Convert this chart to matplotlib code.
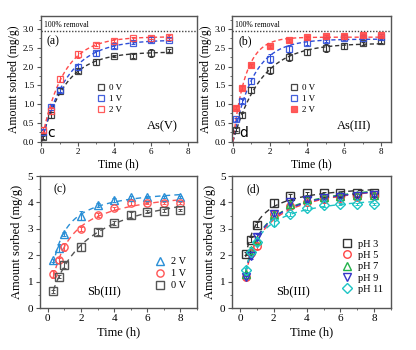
import numpy as np
import matplotlib
matplotlib.use("Agg")
import matplotlib.pyplot as plt
from matplotlib.ticker import MultipleLocator

plt.rcParams['font.family'] = ['Liberation Serif', 'DejaVu Serif']
plt.rcParams['mathtext.fontset'] = 'stix'

# ---------------- data ----------------
# (a) As(V)
t_a = [0.1, 0.5, 1, 2, 3, 4, 5, 6, 7]
a_0V = [0.12, 0.70, 1.35, 1.88, 2.12, 2.29, 2.29, 2.36, 2.43]
a_1V = [0.25, 0.92, 1.38, 1.98, 2.35, 2.54, 2.64, 2.70, 2.72]
a_2V = [0.32, 0.82, 1.68, 2.33, 2.58, 2.69, 2.75, 2.77, 2.80]
a_err0 = [0.04, 0.08, 0.07, 0.05, 0.08, 0.03, 0.05, 0.10, 0.05]
a_err1 = [0.05, 0.08, 0.07, 0.08, 0.07, 0.04, 0.04, 0.04, 0.04]
a_err2 = [0.06, 0.09, 0.08, 0.09, 0.04, 0.04, 0.04, 0.04, 0.04]

# (b) As(III)
t_b = [0.17, 0.5, 1, 2, 3, 4, 5, 6, 7, 8]
b_0V = [0.32, 0.70, 1.37, 1.90, 2.26, 2.39, 2.50, 2.55, 2.62, 2.67]
b_1V = [0.59, 1.08, 1.61, 2.21, 2.48, 2.64, 2.71, 2.75, 2.77, 2.78]
b_2V = [0.90, 1.43, 2.03, 2.54, 2.70, 2.78, 2.81, 2.82, 2.83, 2.83]
b_err0 = [0.05, 0.06, 0.08, 0.10, 0.10, 0.08, 0.10, 0.08, 0.04, 0.05]
b_err1 = [0.05, 0.06, 0.08, 0.12, 0.10, 0.06, 0.05, 0.04, 0.04, 0.04]
b_err2 = [0.04, 0.05, 0.04, 0.04, 0.04, 0.04, 0.04, 0.04, 0.04, 0.04]

# (c) Sb(III), voltage
t_c = [0.33, 0.67, 1, 2, 3, 4, 5, 6, 7, 8]
c_2V = [1.81, 2.28, 2.81, 3.50, 3.90, 4.09, 4.19, 4.21, 4.21, 4.21]
c_1V = [1.28, 1.80, 2.31, 3.00, 3.51, 3.78, 3.98, 3.98, 3.98, 3.98]
c_0V = [0.63, 1.19, 1.63, 2.31, 2.88, 3.23, 3.53, 3.65, 3.69, 3.71]
c_err2 = [0.05, 0.15, 0.08, 0.18, 0.08, 0.06, 0.06, 0.05, 0.05, 0.05]
c_err1 = [0.15, 0.08, 0.15, 0.08, 0.08, 0.06, 0.06, 0.05, 0.05, 0.05]
c_err0 = [0.05, 0.05, 0.10, 0.15, 0.12, 0.08, 0.12, 0.06, 0.05, 0.05]

# (d) Sb(III), pH
t_d = [0.33, 0.67, 1, 2, 3, 4, 5, 6, 7, 8]
d_pH3 = [2.06, 2.59, 3.15, 3.98, 4.25, 4.34, 4.34, 4.35, 4.35, 4.37]
d_pH5 = [1.19, 2.10, 2.34, 3.56, 3.88, 4.03, 4.13, 4.18, 4.20, 4.25]
d_pH7 = [1.30, 2.20, 2.56, 3.56, 3.94, 4.13, 4.21, 4.25, 4.27, 4.29]
d_pH9 = [1.16, 1.96, 2.69, 3.56, 4.00, 4.09, 4.16, 4.21, 4.25, 4.29]
d_pH11 = [1.44, 2.13, 2.50, 3.25, 3.56, 3.79, 3.90, 3.94, 3.94, 3.94]
d_err = [0.06, 0.10, 0.10, 0.15, 0.08, 0.06, 0.06, 0.05, 0.05, 0.05]


# ---------------- fitting helpers (fit to read data) ----------------
def fit_pfo(t, q):
    t = np.asarray(t, float); q = np.asarray(q, float)
    best = None
    for k in np.linspace(0.05, 8, 800):
        f = 1 - np.exp(-k * t)
        qe = (f @ q) / (f @ f)
        r = np.sum((q - qe * f) ** 2)
        if best is None or r < best[0]:
            best = (r, qe, k)
    return lambda x: best[1] * (1 - np.exp(-best[2] * x))


def fit_pso(t, q):
    t = np.asarray(t, float); q = np.asarray(q, float)
    best = None
    for qe in np.linspace(max(q), 2 * max(q), 300):
        for k in np.linspace(0.02, 5, 250):
            m = qe * qe * k * t / (1 + qe * k * t)
            r = np.sum((q - m) ** 2)
            if best is None or r < best[0]:
                best = (r, qe, k)
    qe, k = best[1], best[2]
    return lambda x: qe * qe * k * x / (1 + qe * k * x)


W, H = 416, 350
fig = plt.figure(figsize=(W / 100, H / 100), dpi=100)

def px_axes(l, r, t, b):
    return fig.add_axes([l / W, 1 - b / H, (r - l) / W, (b - t) / H])

axA = px_axes(40.5, 196.7, 16, 141.5)
axB = px_axes(232, 390.5, 16, 141.5)
axC = px_axes(39.5, 197, 176, 308)
axD = px_axes(231.7, 390.7, 176, 308)

spine_col = '#555555'
for ax in (axA, axB, axC, axD):
    for s in ax.spines.values():
        s.set_color(spine_col)
        s.set_linewidth(1.0)
    ax.tick_params(which='both', direction='out', color=spine_col,
                   top=False, right=False)
    ax.tick_params(which='major', length=3, width=0.8)
    ax.tick_params(which='minor', length=1.6, width=0.6)
    ax.xaxis.set_major_locator(MultipleLocator(2))
    ax.xaxis.set_minor_locator(MultipleLocator(1))

black = '#333333'
blue = '#2f4fd8'
red = '#ff4a4a'

# ---- (a) and (b) ----
def panel_as(ax, t, series, errs, tend, label, letter, sp, filled_red):
    cols = [black, blue, red]
    names = ['0 V', '1 V', '2 V']
    tt = np.linspace(0, tend, 200)
    handles = []
    for q, e, c, n in zip(series, errs, cols, names):
        f = fit_pfo(t, q)
        ax.plot(tt, f(tt), ls=(0, (3, 2)), color=c, lw=1.0, zorder=2)
        fc = c if (filled_red and c == red) else 'none'
        ax.errorbar(t, q, yerr=e, fmt='none', ecolor=c, elinewidth=0.8,
                    capsize=1.5, capthick=0.7, zorder=3)
        h, = ax.plot(t, q, 's', ms=3.8, mfc=fc, mec=c, mew=0.9, ls='none',
                     zorder=4, alpha=0.9, label=n)
        handles.append(h)
    ax.axhline(2.96, color='#444444', ls=(0, (1, 1.2)), lw=1.0)
    ax.text(0.12, 3.0, '100% removal', fontsize=5.5, va='bottom', ha='left')
    ax.set_xlim(-0.05, 8.5)
    ax.set_ylim(0, 3.35)
    ax.yaxis.set_major_locator(MultipleLocator(0.5))
    ax.yaxis.set_minor_locator(MultipleLocator(0.25))
    ax.tick_params(labelsize=6.5, pad=1.5)
    ax.set_yticklabels([f'{v:.1f}' for v in ax.get_yticks()])
    ax.set_xlabel('Time (h)', fontsize=8.5, labelpad=2)
    ax.set_ylabel('Amount sorbed (mg/g)', fontsize=8.5, labelpad=2)
    ax.text(0.04, 0.80, label, transform=ax.transAxes, fontsize=8.5,
            va='center', ha='left')
    ax.text(0.88, 0.12, sp, transform=ax.transAxes, fontsize=9,
            va='center', ha='right')
    ax.text(0.045, 0.07, letter, transform=ax.transAxes, fontsize=10,
            va='center', ha='left', family=['DejaVu Sans'])
    ax.legend(handles=handles, loc='center left', bbox_to_anchor=(0.32, 0.34),
              frameon=False, fontsize=6.5, handlelength=1.0,
              handletextpad=0.4, labelspacing=0.3, borderpad=0.2)

panel_as(axA, t_a, [a_0V, a_1V, a_2V], [a_err0, a_err1, a_err2], 7,
         '(a)', 'c', 'As(V)', False)
panel_as(axB, t_b, [b_0V, b_1V, b_2V], [b_err0, b_err1, b_err2], 8,
         '(b)', 'd', 'As(III)', True)
axA.set_ylim(0, 3.35)
axB.set_ylim(0, 3.35)

# ---- (c) ----
c_cols = ['#2a8fd6', '#ff5555', '#555555']
c_marks = ['^', 'o', 's']
c_names = ['2 V', '1 V', '0 V']
tt = np.linspace(t_c[0], 8, 200)
hs = []
for q, e, c, m, n in zip([c_2V, c_1V, c_0V], [c_err2, c_err1, c_err0],
                         c_cols, c_marks, c_names):
    f = fit_pso(t_c, q)
    axC.plot(tt, f(tt), ls=(0, (4, 3)), color=c, lw=1.0, zorder=2)
    axC.errorbar(t_c, q, yerr=e, fmt='none', ecolor=c, elinewidth=0.8,
                 capsize=1.5, capthick=0.7, zorder=3)
    h, = axC.plot(t_c, q, m, ms=6 if m == '^' else 5.2, mfc='none', mec=c,
                  mew=1.0, ls='none', zorder=4, label=n)
    hs.append(h)
axC.set_xlim(-0.5, 9)
axC.set_ylim(0, 5)
axC.yaxis.set_major_locator(MultipleLocator(1))
axC.yaxis.set_minor_locator(MultipleLocator(0.5))
axC.tick_params(labelsize=8, pad=1.5)
axC.set_xlabel('Time (h)', fontsize=9, labelpad=2)
axC.set_ylabel('Amount sorbed (mg/g)', fontsize=9, labelpad=3)
axC.text(0.09, 0.9, '(c)', transform=axC.transAxes, fontsize=8.5, va='center')
axC.text(0.3, 0.13, 'Sb(III)', transform=axC.transAxes, fontsize=9, va='center')
axC.legend(handles=hs, loc='lower right', bbox_to_anchor=(0.98, 0.08),
           frameon=False, fontsize=7.5, handlelength=1.0, handletextpad=0.6,
           labelspacing=0.25, borderpad=0.2)

# ---- (d) ----
d_cols = ['#333333', '#ff4444', '#22b24a', '#3535c8', '#1ec4c4']
d_marks = ['s', 'o', '^', 'v', 'D']
d_names = ['pH 3', 'pH 5', 'pH 7', 'pH 9', 'pH 11']
tt = np.linspace(t_d[0], 8, 200)
hs = []
for q, c, m, n in zip([d_pH3, d_pH5, d_pH7, d_pH9, d_pH11], d_cols, d_marks, d_names):
    f = fit_pso(t_d, q)
    axD.plot(tt, f(tt), ls=(0, (4, 3)), color=c, lw=1.0, zorder=2)
    axD.errorbar(t_d, q, yerr=d_err, fmt='none', ecolor=c, elinewidth=0.8,
                 capsize=1.5, capthick=0.7, zorder=3)
    h, = axD.plot(t_d, q, m, ms=4.6 if m == 'D' else 5.4, mfc='none', mec=c,
                  mew=1.0, ls='none', zorder=4, label=n)
    hs.append(h)
axD.set_xlim(-0.5, 9)
axD.set_ylim(0, 5)
axD.yaxis.set_major_locator(MultipleLocator(1))
axD.yaxis.set_minor_locator(MultipleLocator(0.5))
axD.tick_params(labelsize=8, pad=1.5)
axD.set_xlabel('Time (h)', fontsize=9, labelpad=2)
axD.set_ylabel('Amount sorbed (mg/g)', fontsize=9, labelpad=3)
axD.text(0.09, 0.9, '(d)', transform=axD.transAxes, fontsize=8.5, va='center')
axD.text(0.28, 0.13, 'Sb(III)', transform=axD.transAxes, fontsize=9, va='center')
axD.legend(handles=hs, loc='lower right', bbox_to_anchor=(1.0, 0.05),
           frameon=False, fontsize=7.5, handlelength=1.0, handletextpad=0.6,
           labelspacing=0.2, borderpad=0.2)

fig.savefig('out.png', dpi=100)
